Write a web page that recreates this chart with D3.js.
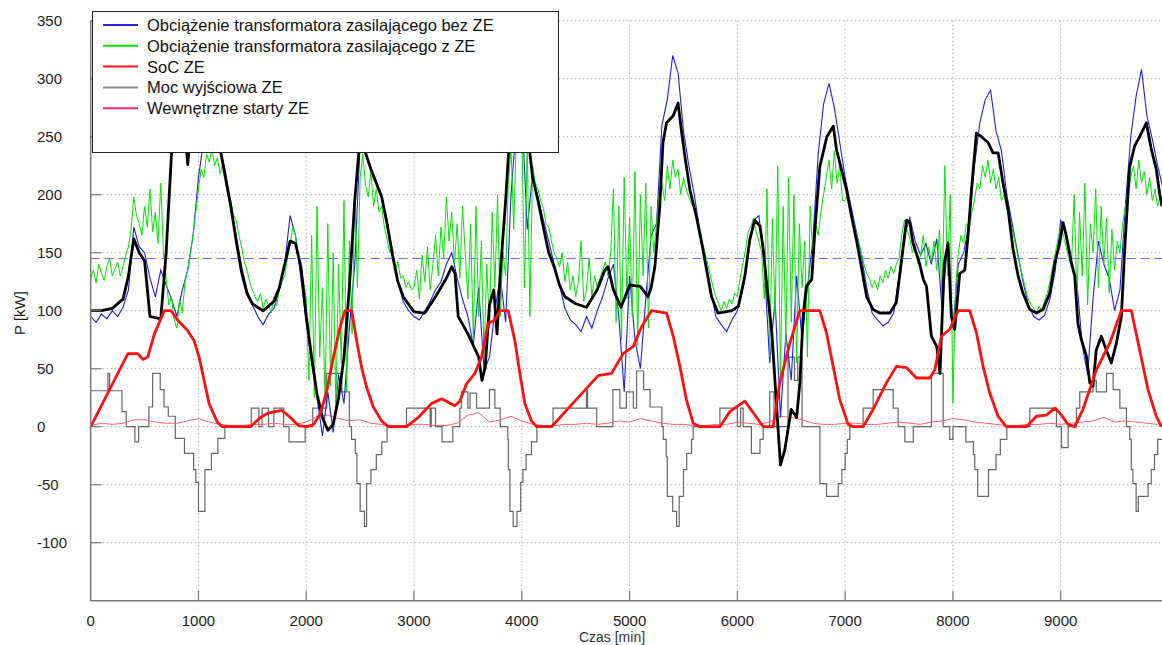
<!DOCTYPE html>
<html>
<head>
<meta charset="utf-8">
<script src="https://cdnjs.cloudflare.com/ajax/libs/d3/7.8.5/d3.min.js"></script>
<style>
body { margin: 0; background: #fff; }
svg text { font-family: "Liberation Sans", Arial, sans-serif; }
</style>
</head>
<body>
<div id="chart"></div>
<script>
// axis ticks
var xTicks = [0, 1000, 2000, 3000, 4000, 5000, 6000, 7000, 8000, 9000];
var yTicks = [-100, -50, 0, 50, 100, 150, 200, 250, 300, 350];
var limitLevel = 145;

var legendNames = [
    "Obciążenie transformatora zasilającego bez ZE",
    "Obciążenie transformatora zasilającego z ZE",
    "SoC ZE",
    "Moc wyjściowa ZE",
    "Wewnętrzne starty ZE"
];

// load without storage, one value every 50 min
var loadNoZE = [
    95, 90, 97, 93, 100, 95, 103, 118, 172, 155,
    150, 128, 112, 135, 122, 110, 95, 118, 135, 165,
    215, 248, 262, 255, 240, 220, 192, 165, 138, 118,
    105, 95, 88, 97, 102, 118, 140, 182, 165, 128,
    90, 55, 25, -8, 30, -5, 45, 20, 85, 140,
    245, 235, 222, 212, 198, 178, 150, 125, 108, 100,
    95, 92, 100, 108, 118, 125, 140, 150, 128, 110,
    95, 70, 120, 48, 60, 100, 130, 90, 200, 262,
    275, 170, 218, 198, 178, 160, 140, 122, 102, 92,
    88, 82, 95, 85, 100, 112, 128, 140, 95, 30,
    130, 75, 50, 110, 165, 175, 260, 282, 320, 305,
    255, 225, 200, 170, 145, 120, 95, 88, 82, 92,
    100, 118, 150, 178, 182, 140, 55, 110, 8, 80,
    40, 130, 75, 120, 160, 235, 278, 296, 275, 245,
    215, 192, 170, 148, 120, 98, 92, 87, 90, 98,
    130, 165, 180, 160, 148, 158, 140, 162, 100, 160,
    85, 140, 150, 175, 225, 262, 282, 290, 255, 238,
    200, 175, 150, 125, 105, 95, 92, 96, 110, 135,
    178, 168, 142, 125, 70, 45, 110, 160, 140, 128,
    100, 118, 190, 250, 285, 308, 268, 248, 225, 205
];

// load with storage, one value every 25 min
var loadWithZE = [
    128, 135, 124, 140, 132, 126, 138, 145, 130, 136, 142, 130, 138, 148, 155, 170, 198, 182, 175, 165,
    190, 172, 205, 168, 185, 158, 210, 150, 128, 105, 112, 92, 85, 110, 98, 125, 135, 150, 165, 185,
    205, 222, 215, 235, 228, 240, 225, 232, 218, 226, 210, 200, 195, 182, 178, 165, 155, 142, 135, 125,
    118, 112, 108, 115, 102, 110, 105, 98, 112, 104, 118, 125, 130, 145, 158, 172, 165, 150, 138, 125,
    110, 40, 165, 25, 190, 60, 120, 20, 175, 35, 150, 15, 140, 55, 195, 30, 160, 80, 200, 120,
    215, 235, 208, 198, 220, 190, 205, 185, 190, 172, 162, 150, 155, 135, 142, 128, 130, 120, 125, 118,
    120, 135, 110, 148, 125, 155, 118, 140, 165, 130, 172, 145, 198, 160, 185, 140, 175, 128, 190, 150,
    110, 175, 75, 190, 95, 160, 60, 140, 85, 185, 120, 200, 95, 150, 130, 210, 240, 170, 255, 265,
    260, 120, 245, 95, 225, 210, 205, 195, 188, 175, 172, 160, 150, 145, 138, 150, 125, 142, 118, 130,
    112, 125, 160, 108, 118, 145, 112, 130, 120, 128, 135, 142, 130, 150, 205, 90, 190, 75, 215, 110,
    180, 95, 220, 70, 200, 130, 210, 85, 190, 150, 175, 200, 210, 195, 225, 205, 230, 215, 222, 200,
    215, 205, 198, 192, 188, 180, 172, 160, 150, 140, 130, 120, 112, 106, 100, 108, 102, 110, 106, 115,
    112, 128, 140, 152, 168, 172, 180, 168, 160, 150, 110, 205, 60, 180, 95, 225, 40, 190, 70, 215,
    90, 200, 55, 175, 120, 160, 60, 190, 150, 175, 165, 185, 200, 215, 230, 205, 238, 210, 225, 195,
    195, 200, 185, 178, 168, 160, 150, 140, 132, 128, 120, 126, 118, 130, 124, 135, 128, 138, 132, 140,
    145, 165, 178, 170, 162, 150, 158, 140, 148, 165, 138, 155, 142, 160, 135, 170, 110, 225, 130, 200,
    20, 120, 150, 165, 158, 175, 170, 185, 195, 210, 205, 225, 215, 230, 210, 222, 205, 215, 195, 200,
    188, 180, 170, 160, 148, 138, 128, 118, 110, 105, 102, 98, 104, 100, 108, 115, 125, 138, 150, 162,
    172, 165, 155, 145, 138, 200, 110, 185, 130, 210, 105, 175, 150, 205, 120, 190, 140, 180, 115, 170,
    135, 160, 150, 175, 190, 200, 215, 225, 205, 230, 210, 220, 200, 215, 195, 205, 190, 200, 185, 195
];

// smoothed load (thick black), [min, kW]
var loadSmooth = [
    [0,100],[100,100],[200,102],[300,110],[350,130],[400,162],[450,150],[500,143],[550,95],[650,93],
    [700,150],[750,236],[800,252],[880,250],[900,226],[920,250],[1000,258],[1100,262],[1200,240],[1250,215],
    [1300,190],[1350,160],[1400,133],[1450,115],[1500,106],[1600,100],[1700,108],[1750,120],[1800,140],[1850,160],
    [1900,158],[1950,138],[2000,95],[2050,60],[2100,28],[2150,8],[2200,-3],[2250,2],[2300,25],[2350,60],
    [2400,120],[2450,195],[2500,250],[2600,222],[2700,198],[2750,175],[2800,148],[2850,125],[2900,112],[3000,99],
    [3100,98],[3200,112],[3300,128],[3350,138],[3380,132],[3410,95],[3500,80],[3600,60],[3630,40],[3660,51],
    [3700,105],[3740,118],[3770,80],[3800,132],[3850,195],[3880,240],[4000,270],[4070,240],[4100,215],[4150,195],
    [4200,172],[4250,150],[4300,138],[4350,122],[4400,112],[4500,106],[4600,103],[4700,118],[4770,135],[4800,138],
    [4850,118],[4920,103],[5000,122],[5100,121],[5170,112],[5200,120],[5235,138],[5280,190],[5310,245],[5343,262],
    [5405,268],[5450,279],[5480,256],[5513,233],[5560,204],[5620,181],[5670,158],[5715,135],[5760,112],[5820,98],
    [5950,100],[6010,104],[6070,130],[6115,161],[6160,178],[6210,173],[6240,153],[6270,125],[6320,81],[6350,38],
    [6380,-5],[6400,-33],[6440,-20],[6500,15],[6550,8],[6580,38],[6610,95],[6640,121],[6690,127],[6720,170],
    [6765,224],[6830,250],[6890,259],[6920,239],[6965,222],[7013,204],[7060,181],[7105,161],[7150,138],[7200,112],
    [7260,101],[7320,98],[7415,98],[7475,107],[7520,141],[7570,178],[7600,176],[7630,158],[7690,141],[7725,127],
    [7755,121],[7800,78],[7850,69],[7880,46],[7920,141],[7955,158],[7985,95],[8017,84],[8063,132],[8110,135],
    [8140,164],[8172,204],[8218,253],[8265,250],[8326,245],[8372,236],[8420,236],[8465,210],[8512,187],[8558,153],
    [8605,130],[8650,115],[8713,101],[8775,98],[8837,101],[8898,115],[8945,141],[8990,158],[9022,176],[9053,164],
    [9100,141],[9130,130],[9160,89],[9192,75],[9238,61],[9270,38],[9300,35],[9330,66],[9377,78],[9424,66],
    [9470,55],[9517,72],[9563,95],[9594,153],[9640,224],[9686,242],[9733,250],[9795,262],[9841,239],[9887,222],
    [9918,201],[9940,190]
];

// state of charge, [min, %]
var socZE = [
    [0,0],[345,63],[437,63],[483,58],[529,60],[591,80],[683,100],[745,100],[806,92],[898,83],
    [960,74],[1006,60],[1052,40],[1098,20],[1175,4],[1221,0],[1483,0],[1575,8],[1652,12],[1775,14],
    [1852,8],[1929,1],[2006,0],[2068,2],[2129,11],[2191,31],[2252,60],[2314,86],[2360,100],[2422,100],
    [2468,74],[2514,51],[2560,34],[2622,17],[2699,5],[2761,0],[2931,0],[3039,8],[3163,20],[3255,24],
    [3379,18],[3425,22],[3487,37],[3565,46],[3626,60],[3688,89],[3750,92],[3797,100],[3874,100],[3936,74],
    [3982,46],[4028,20],[4090,5],[4137,0],[4276,0],[4492,22],[4709,44],[4832,46],[4940,63],[5033,69],
    [5110,86],[5203,100],[5343,98],[5405,78],[5467,52],[5528,23],[5590,3],[5652,0],[5838,0],[5930,13],
    [6069,22],[6147,12],[6240,0],[6332,0],[6394,38],[6487,72],[6580,100],[6765,100],[6827,81],[6889,52],
    [6951,23],[7028,2],[7074,0],[7167,0],[7260,15],[7384,38],[7476,52],[7569,51],[7662,42],[7786,42],
    [7832,49],[7894,78],[7971,84],[8048,100],[8156,100],[8218,81],[8280,52],[8342,29],[8419,9],[8496,0],
    [8682,0],[8775,9],[8867,10],[8945,16],[8991,12],[9068,2],[9130,0],[9207,15],[9331,49],[9455,72],
    [9563,100],[9656,100],[9733,66],[9810,32],[9887,9],[9934,0]
];

// storage output power, steps, [min, kW]
var outputZE = [
    [0,31],[160,46],[175,31],[290,13],[330,0],[410,-13],[445,0],[540,17],[575,46],[645,32],
    [680,17],[720,9],[785,-10],[870,-23],[955,-37],[975,-48],[1000,-73],[1060,-37],[1120,-23],[1180,-10],
    [1245,0],[1490,16],[1560,0],[1590,16],[1650,0],[1700,16],[1790,0],[1840,-13],[1990,0],[2060,16],
    [2190,46],[2330,30],[2400,0],[2420,-11],[2455,-23],[2470,-49],[2500,-73],[2540,-86],[2560,-49],[2600,-37],
    [2650,-24],[2700,-13],[2750,0],[2930,16],[3150,0],[3160,16],[3200,0],[3260,-13],[3360,0],[3425,16],
    [3440,30],[3500,16],[3520,29],[3580,16],[3700,32],[3750,16],[3800,0],[3870,-11],[3875,-37],[3890,-73],
    [3920,-86],[3955,-73],[3990,-48],[4010,-37],[4040,-24],[4090,-13],[4140,0],[4290,16],[4600,32],[4610,16],
    [4695,0],[4845,32],[4910,16],[4970,30],[5035,16],[5065,48],[5130,32],[5190,17],[5300,0],[5312,-11],
    [5340,-26],[5350,-60],[5400,-73],[5436,-86],[5460,-60],[5500,-37],[5530,-23],[5575,-11],[5590,0],[5838,16],
    [6000,0],[6030,16],[6054,0],[6130,-23],[6210,-11],[6240,0],[6300,30],[6340,0],[6470,60],[6530,40],
    [6560,60],[6600,0],[6766,-49],[6827,-60],[6936,-49],[6970,-37],[7000,-23],[7020,-11],[7044,0],[7167,16],
    [7260,32],[7446,16],[7492,0],[7554,-13],[7632,0],[7801,46],[7910,0],[7970,-11],[8000,0],[8120,-13],
    [8190,-24],[8203,-37],[8230,-60],[8330,-37],[8400,-24],[8440,-11],[8500,0],[8714,16],[8961,0],[9007,-18],
    [9069,0],[9146,16],[9177,30],[9300,40],[9330,30],[9425,46],[9487,32],[9549,16],[9610,0],[9641,-11],
    [9655,-37],[9670,-49],[9700,-73],[9720,-60],[9811,-49],[9840,-37],[9870,-24],[9900,-11],[9940,-11]
];

// internal starts, one value every 100 min
var internalStarts = [
    1, 3, 2, 3, 6, 6, 4, 3, 3, 5, 7, 4, 2, 1, 1, 2, 2, 3, 2, 2,
    4, 9, 10, 7, 5, 6, 3, 2, 1, 1, 2, 2, 1, 1, 3, 10, 12, 4, 6, 9,
    5, 2, 1, 1, 2, 2, 3, 2, 3, 5, 4, 7, 5, 3, 2, 2, 1, 1, 2, 2,
    4, 3, 2, 4, 9, 8, 6, 3, 2, 2, 3, 3, 2, 2, 3, 4, 3, 2, 4, 5,
    7, 6, 4, 3, 2, 1, 1, 2, 2, 3, 2, 3, 4, 5, 8, 4, 5, 4, 3, 2
];

function draw() {
    var W = 1162, H = 645;
    var left = 90.7, right = 1162, top = 20.7, bottom = 600.7;

    var svg = d3.select("#chart").append("svg")
        .attr("width", W)
        .attr("height", H);

    var x = d3.scaleLinear().domain([0, 9940]).range([left, right]);
    var y = d3.scaleLinear().domain([-150, 350]).range([bottom, top]);

    svg.append("clipPath").attr("id", "plot")
        .append("rect")
        .attr("x", left).attr("y", top)
        .attr("width", right - left).attr("height", bottom - top);

    // dotted grid
    var grid = svg.append("g").attr("stroke", "#b0b0b0").attr("stroke-dasharray", "1.5,2.5").attr("stroke-width", 1);
    grid.selectAll(".gx").data(xTicks.slice(1)).enter().append("line")
        .attr("x1", x).attr("x2", x)
        .attr("y1", top).attr("y2", bottom);
    grid.selectAll(".gy").data(yTicks).enter().append("line")
        .attr("x1", left).attr("x2", right)
        .attr("y1", y).attr("y2", y);

    var plot = svg.append("g").attr("clip-path", "url(#plot)");

    // limit
    plot.append("line")
        .attr("x1", left).attr("x2", right)
        .attr("y1", y(limitLevel)).attr("y2", y(limitLevel))
        .attr("stroke", "#6a6aff")
        .attr("stroke-width", 1.2)
        .attr("stroke-dasharray", "9,5");

    var line = d3.line().x(function(d){return x(d[0]);}).y(function(d){return y(d[1]);});
    var stepLine = d3.line().x(function(d){return x(d[0]);}).y(function(d){return y(d[1]);}).curve(d3.curveStepAfter);

    function every(values, dt) {
        return values.map(function(v, i){return [i * dt, v];});
    }

    plot.append("path").datum(outputZE)
        .attr("d", stepLine)
        .attr("fill", "none").attr("stroke", "#666").attr("stroke-width", 1.2);

    plot.append("path").datum(every(internalStarts, 100))
        .attr("d", line)
        .attr("fill", "none").attr("stroke", "#ff6070").attr("stroke-width", 1);

    plot.append("path").datum(every(loadNoZE, 50))
        .attr("d", line)
        .attr("fill", "none").attr("stroke", "#1f1fe6").attr("stroke-width", 1.1);

    plot.append("path").datum(every(loadWithZE, 25))
        .attr("d", line)
        .attr("fill", "none").attr("stroke", "#00e600").attr("stroke-width", 1);

    plot.append("path").datum(loadSmooth)
        .attr("d", line)
        .attr("fill", "none").attr("stroke", "#000").attr("stroke-width", 2.8)
        .attr("stroke-linejoin", "round");

    plot.append("path").datum(socZE)
        .attr("d", line)
        .attr("fill", "none").attr("stroke", "#ff1010").attr("stroke-width", 2.8)
        .attr("stroke-linejoin", "round");

    // axes
    var axisColor = "#7a7a7a";
    svg.append("line")
        .attr("x1", left).attr("x2", left).attr("y1", top).attr("y2", bottom)
        .attr("stroke", axisColor).attr("stroke-width", 1.5);
    svg.append("line")
        .attr("x1", left).attr("x2", right).attr("y1", bottom).attr("y2", bottom)
        .attr("stroke", axisColor).attr("stroke-width", 1.5);

    svg.selectAll(".ty").data(yTicks).enter().append("line")
        .attr("x1", left).attr("x2", left + 11)
        .attr("y1", y).attr("y2", y)
        .attr("stroke", axisColor).attr("stroke-width", 1.2);
    svg.selectAll(".tx").data(xTicks.slice(1)).enter().append("line")
        .attr("x1", x).attr("x2", x)
        .attr("y1", bottom).attr("y2", bottom - 10)
        .attr("stroke", axisColor).attr("stroke-width", 1.2);

    svg.selectAll(".ly").data(yTicks).enter().append("text")
        .attr("x", 37)
        .attr("y", function(d){return y(d) + 5;})
        .attr("font-size", "15px")
        .attr("fill", "#222")
        .text(function(d){return d;});

    svg.selectAll(".lx").data(xTicks).enter().append("text")
        .attr("x", x)
        .attr("y", 626)
        .attr("text-anchor", "middle")
        .attr("font-size", "15px")
        .attr("fill", "#222")
        .text(function(d){return d;});

    svg.append("text")
        .attr("x", 612).attr("y", 642)
        .attr("text-anchor", "middle")
        .attr("font-size", "14px")
        .attr("fill", "#333")
        .text("Czas [min]");

    svg.append("text")
        .attr("transform", "translate(25,313) rotate(-90)")
        .attr("text-anchor", "middle")
        .attr("font-size", "15px")
        .attr("fill", "#222")
        .text("P [kW]");

    // legend
    var legendColors = ["#2a2ae6", "#00e600", "#ff1010", "#8a8a8a", "#f0287a"];
    var legend = svg.append("g");
    legend.append("rect")
        .attr("x", 92.5).attr("y", 11.5)
        .attr("width", 466).attr("height", 141)
        .attr("fill", "#fff")
        .attr("stroke", "#222").attr("stroke-width", 1);
    var rows = legend.selectAll(".row").data(legendNames).enter().append("g")
        .attr("transform", function(d, i){return "translate(0," + (25 + i * 20.8) + ")";});
    rows.append("line")
        .attr("x1", 103).attr("x2", 138)
        .attr("stroke", function(d, i){return legendColors[i];})
        .attr("stroke-width", 2);
    rows.append("text")
        .attr("x", 147).attr("y", 6)
        .attr("font-size", "16.5px")
        .attr("fill", "#111")
        .text(function(d){return d;});
}

draw();
</script>
</body>
</html>
